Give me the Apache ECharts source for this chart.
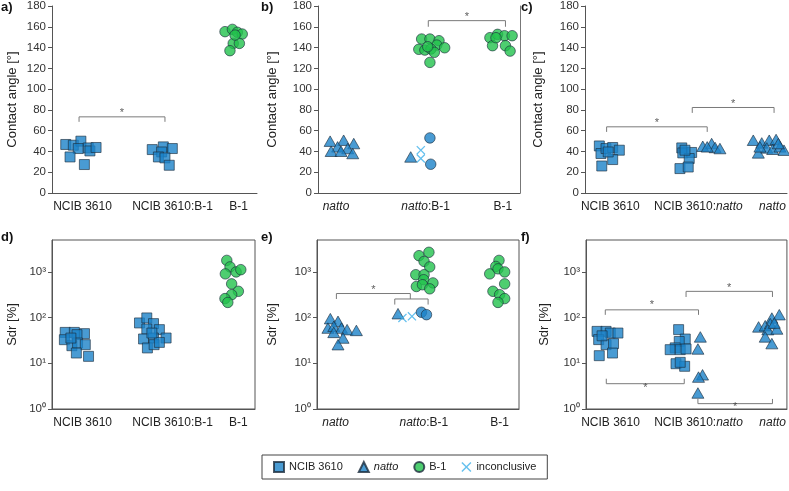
<!DOCTYPE html>
<html>
<head>
<meta charset="utf-8">
<script src="https://cdn.jsdelivr.net/npm/echarts@6/dist/echarts.min.js"></script>
<style>
  html, body { margin: 0; padding: 0; background: #fff; }
  #main { width: 789px; height: 491px; }
</style>
</head>
<body>
<div id="main"></div>
<script>
// category labels and their places on each panel's 0..10 x scale
var catsA = ['NCIB 3610', 'NCIB 3610:B-1', 'B-1'];
var catsB = ['natto', 'natto:B-1', 'B-1'];
var catsC = ['NCIB 3610', 'NCIB 3610:natto', 'natto'];
var posA = [1.49, 5.88, 9.10];
var posB = [0.89, 5.33, 9.15];
var posC = [1.25, 5.61, 9.28];
var posD = [1.51, 5.94, 9.18];
var posE = [0.92, 5.29, 9.04];
var posF = [1.22, 5.60, 9.29];

// [jitter, value] — contact angle (deg)
var a_ncib = [[-0.82,46.7],[-0.45,46],[-0.08,49.9],[-0.21,42.8],[0.28,43.4],[0.36,40.5],[0.66,43.8],[-0.61,34.7],[0.09,27.4]];
var a_mix_ncib = [[-0.99,41.8],[-0.45,44.4],[-0.01,42.8],[-0.53,39.5],[-0.69,34.7],[-0.37,33.8],[-0.16,26.7]];
var a_b1 = [[-0.66,155.3],[-0.30,157.5],[-0.06,154.7],[0.18,153],[-0.26,144],[0.04,144],[-0.42,137],[-0.17,152]];

var b_natto = [[-0.29,49.9],[0.38,50.8],[0.88,47.6],[0.08,44.4],[0.58,42.8],[-0.24,40.2],[0.25,40.2],[0.83,38]];
var b_mix_natto = [[-0.74,34.7]];
var b_mix_inc = [[-0.24,41.2],[-0.24,33.2]];
var b_mix_round = [[0.21,53],[0.25,27.7]];
var b_mix_b1 = [[-0.20,148.2],[0.21,148.2],[0.66,146.6],[0.55,142.4],[0.94,139.8],[-0.34,138.3],[-0.04,137.6],[0.26,138.6],[0.43,135.4],[0.21,125.7],[0.10,140.8]];
var b_b1 = [[-0.64,149.5],[-0.26,152.7],[0.08,151.4],[0.46,151.4],[-0.51,141.8],[0.13,141.8],[0.36,136.6],[-0.34,149.5]];

var c_ncib = [[-0.54,45.3],[-0.46,38],[-0.21,42.8],[0.12,43.8],[0.45,41.2],[0.12,32.2],[-0.42,26],[-0.10,39.5]];
var c_mix_ncib = [[-0.82,43.4],[-0.77,38.6],[-0.33,39],[-0.45,33.2],[-0.91,23.5],[-0.50,25],[-0.66,41.2]];
var c_mix_natto = [[0.22,45],[0.66,47.6],[0.83,43.8],[1.07,42.8],[0.44,44.4]];
var c_natto = [[-0.95,50.8],[-0.53,48.2],[-0.16,50.8],[0.18,51.5],[-0.70,38.6],[-0.28,43.4],[0.01,42.1],[0.37,44.4],[0.57,41.2],[-0.62,44.4],[0.29,47.6]];

// [jitter, value] — Sdr (%)
var d_ncib = [[-0.86,47.5],[-0.41,47.5],[0.09,44.6],[-0.90,32.9],[-0.28,42.4],[-0.53,24.3],[-0.25,27.8],[0.13,25.6],[-0.31,16.8],[0.29,14.2],[-0.58,35.7]];
var d_mix_ncib = [[-1.63,76.5],[-1.27,98.5],[-0.94,73.9],[-1.27,56.4],[-0.65,54.6],[-1.43,34.1],[-0.94,35.8],[-0.32,35.8],[-1.24,21.7],[-0.91,25.6],[-0.65,28.7],[-1.02,46]];
var d_b1 = [[-0.57,1790],[-0.41,1290],[-0.64,907],[-0.11,1000],[0.12,1120],[-0.33,548],[0,377],[-0.33,318],[-0.66,261],[-0.52,215]];

var e_natto = [[-0.26,95],[0.12,83],[-0.38,59],[-0.09,64.6],[0.29,59],[0.57,54.6],[1.03,52.5],[-0.09,47.5],[0.37,35.7],[0.12,25.6]];
var e_mix_natto = [[-1.28,122]];
var e_mix_inc = [[-1.06,98.5],[-0.59,107]];
var e_mix_round = [[-0.12,131],[0.13,116]];
var e_mix_b1 = [[-0.24,2270],[0.25,2690],[0.01,1700],[0.29,1290],[-0.40,870],[0.01,870],[-0.01,676],[0.45,575],[-0.37,480],[-0.07,525],[0.29,427]];
var e_b1 = [[-0.03,1790],[-0.19,1320],[-0.49,907],[-0.08,1170],[0.25,1000],[0.25,548],[-0.33,377],[0,318],[0.25,261],[-0.08,215]];

var f_ncib = [[-0.67,50],[-0.22,50],[-0.01,46],[0.37,46],[-0.59,33],[-0.22,25.6],[0.15,27],[0.10,16.8],[-0.56,14.7],[-0.42,40]];
var f_mix_ncib = [[-0.99,54.6],[-0.66,34],[-0.96,30],[-1.16,21.8],[-1.41,19.9],[-0.91,19.9],[-0.62,20.6],[-1.12,9.8],[-0.69,8.6],[-0.91,10.5]];
var f_mix_natto = [[0.09,37.8],[-0.03,20.6],[0.20,5.6],[0,5.0],[-0.03,2.24]];
var f_natto = [[-0.70,62.6],[-0.37,66.5],[-0.04,98],[0.33,116],[-0.12,74],[-0.24,54.6],[0.21,56.4],[-0.37,37.8],[-0.04,27],[0.08,76]];

// significance brackets: [x1, x2, bar y, tick end y, star y]
var sigA = [[1.32, 5.51, 73.3, 68.5, 77]];
var sigB = [[5.46, 9.28, 165.9, 160, 169]];
var sigC = [[1.07, 6.05, 63.7, 58.8, 67], [5.31, 9.36, 82.3, 77.1, 86]];
var sigD = [];
var sigE = [[0.96, 4.62, 337, 256, 400], [3.85, 5.50, 256, 193, null]];
var sigF = [[0.96, 5.60, 148, 115, 186], [4.98, 9.28, 376, 283, 450], [1.01, 4.89, 3.58, 4.6, 2.95], [5.57, 9.28, 1.31, 1.66, 1.12]];

var yTicksTop = [0, 180, 20];
var logTicks = [1, 10, 100, 1000];

var BLUE = '#1c82c8', GREEN = '#22c24c', XCOL = '#3fb0ea', EDGE = '#1d2d3d';
var XPATH = 'path://M0,1L1,0L5,4L9,0L10,1L6,5L10,9L9,10L5,6L1,10L0,9L4,5Z';
var FONT = 'Liberation Sans, Arial, sans-serif';

var grids = [
  { left: 52, top: 6, width: 205, height: 187 },
  { left: 318, top: 6, width: 202, height: 187 },
  { left: 585, top: 6, width: 202, height: 187 },
  { left: 52, top: 240, width: 203, height: 169 },
  { left: 317, top: 240, width: 202, height: 169 },
  { left: 586, top: 240, width: 201, height: 169 }
];
var panelCats = [catsA, catsB, catsC, catsA, catsB, catsC];
var panelPos = [posA, posB, posC, posD, posE, posF];
var nameGaps = [33, 39, 40, 33, 38, 35];

var superDigits = { 0: '\u2070', 1: '\u00b9', 2: '\u00b2', 3: '\u00b3', 4: '\u2074' };

function place(pos, i, arr) {
  return arr.map(function (d) { return [pos[i] + d[0], d[1]]; });
}

var styles = {
  sq: { symbol: 'rect', symbolSize: 10, itemStyle: { color: BLUE, borderColor: EDGE, borderWidth: 0.8 } },
  tri: { symbol: 'triangle', symbolSize: [12, 10.5], itemStyle: { color: BLUE, borderColor: EDGE, borderWidth: 0.8 } },
  circ: { symbol: 'circle', symbolSize: 10.5, itemStyle: { color: GREEN, borderColor: EDGE, borderWidth: 0.8 } },
  bcirc: { symbol: 'circle', symbolSize: 10.5, itemStyle: { color: BLUE, borderColor: EDGE, borderWidth: 0.8 } },
  x: { symbol: XPATH, symbolSize: 9, itemStyle: { color: XCOL } }
};

function sc(name, gi, data, kind) {
  var s = styles[kind];
  return {
    type: 'scatter', name: name, xAxisIndex: gi, yAxisIndex: gi, data: data,
    symbol: s.symbol, symbolSize: s.symbolSize, itemStyle: s.itemStyle,
    silent: true, z: 3
  };
}

var series = [];
function add(name, gi, pos, i, arr, kind) {
  series.push(sc(name, gi, place(pos, i, arr), kind));
}

add('NCIB 3610', 0, posA, 0, a_ncib, 'sq');
add('NCIB 3610', 0, posA, 1, a_mix_ncib, 'sq');
add('B-1', 0, posA, 2, a_b1, 'circ');

add('natto', 1, posB, 0, b_natto, 'tri');
add('natto', 1, posB, 1, b_mix_natto, 'tri');
add('inconclusive', 1, posB, 1, b_mix_inc, 'x');
add('natto round', 1, posB, 1, b_mix_round, 'bcirc');
add('B-1', 1, posB, 1, b_mix_b1, 'circ');
add('B-1', 1, posB, 2, b_b1, 'circ');

add('NCIB 3610', 2, posC, 0, c_ncib, 'sq');
add('NCIB 3610', 2, posC, 1, c_mix_ncib, 'sq');
add('natto', 2, posC, 1, c_mix_natto, 'tri');
add('natto', 2, posC, 2, c_natto, 'tri');

add('NCIB 3610', 3, posD, 0, d_ncib, 'sq');
add('NCIB 3610', 3, posD, 1, d_mix_ncib, 'sq');
add('B-1', 3, posD, 2, d_b1, 'circ');

add('natto', 4, posE, 0, e_natto, 'tri');
add('natto', 4, posE, 1, e_mix_natto, 'tri');
add('inconclusive', 4, posE, 1, e_mix_inc, 'x');
add('natto round', 4, posE, 1, e_mix_round, 'bcirc');
add('B-1', 4, posE, 1, e_mix_b1, 'circ');
add('B-1', 4, posE, 2, e_b1, 'circ');

add('NCIB 3610', 5, posF, 0, f_ncib, 'sq');
add('NCIB 3610', 5, posF, 1, f_mix_ncib, 'sq');
add('natto', 5, posF, 1, f_mix_natto, 'tri');
add('natto', 5, posF, 2, f_natto, 'tri');

// brackets and stars
[sigA, sigB, sigC, sigD, sigE, sigF].forEach(function (sig, gi) {
  sig.forEach(function (b) {
    series.push({
      type: 'line', xAxisIndex: gi, yAxisIndex: gi, silent: true, symbol: 'none',
      data: [[b[0], b[3]], [b[0], b[2]], [b[1], b[2]], [b[1], b[3]]],
      lineStyle: { color: '#7a7a7a', width: 1 }, z: 2
    });
    if (b[4] != null) {
      series.push({
        type: 'scatter', xAxisIndex: gi, yAxisIndex: gi, silent: true,
        data: [[(b[0] + b[1]) / 2, b[4]]], symbolSize: 1,
        itemStyle: { color: 'rgba(0,0,0,0)' },
        label: { show: true, formatter: '*', position: 'inside', fontSize: 11, color: '#333', fontFamily: FONT }
      });
    }
  });
});

var xAxes = grids.map(function (g, gi) {
  var cats = panelCats[gi], pos = panelPos[gi];
  return {
    type: 'value', gridIndex: gi, min: 0, max: 10,
    axisLine: { show: true, lineStyle: { color: '#555', width: 1 } },
    axisTick: { show: false }, splitLine: { show: false },
    axisLabel: {
      customValues: pos, margin: 8, fontSize: 12, color: '#222', fontFamily: FONT,
      formatter: function (v) {
        var best = 0;
        pos.forEach(function (p, i) { if (Math.abs(p - v) < Math.abs(pos[best] - v)) best = i; });
        return cats[best].replace(/natto/g, '{i|natto}');
      },
      rich: { i: { fontStyle: 'italic', fontSize: 12, color: '#222', fontFamily: FONT } }
    }
  };
});

var yAxes = grids.map(function (g, gi) {
  var top = gi < 3;
  var ax = {
    gridIndex: gi, nameLocation: 'middle', nameGap: nameGaps[gi],
    name: top ? 'Contact angle [\u00b0]' : 'Sdr [%]',
    nameTextStyle: { fontSize: 13, color: '#222', fontFamily: FONT },
    axisLine: { show: true, lineStyle: { color: '#555', width: 1 } },
    axisTick: { show: true, inside: false, length: 4, lineStyle: { color: '#555' } },
    splitLine: { show: false },
    axisLabel: { fontSize: 11.5, color: '#333', margin: 6, fontFamily: FONT }
  };
  if (top) {
    ax.type = 'value'; ax.min = yTicksTop[0]; ax.max = yTicksTop[1]; ax.interval = yTicksTop[2];
  } else {
    ax.type = 'log'; ax.logBase = 10; ax.min = 1; ax.max = 5000;
    ax.axisTick.customValues = logTicks;
    ax.axisLabel.customValues = logTicks;
    ax.axisLabel.formatter = function (v) {
      return '10' + superDigits[Math.round(Math.log10(v))];
    };
  }
  return ax;
});
// panel b also has a thin frame line on its right side
yAxes.push({
  type: 'value', gridIndex: 1, position: 'right', min: 0, max: 180,
  axisLine: { show: true, lineStyle: { color: '#777', width: 1 } },
  axisTick: { show: false }, axisLabel: { show: false }, splitLine: { show: false }
});

var gridOpts = grids.map(function (g, gi) {
  var o = { left: g.left, top: g.top, width: g.width, height: g.height, containLabel: false };
  if (gi >= 3) { o.show = true; o.borderColor = '#555'; o.borderWidth = 1; o.backgroundColor = 'transparent'; }
  return o;
});

var letters = ['a)', 'b)', 'c)', 'd)', 'e)', 'f)'];
var letterPos = [[1, 1], [261, 1], [521, 1], [1, 231], [261, 231], [521, 231]];
var titles = letters.map(function (t, i) {
  return { text: t, left: letterPos[i][0], top: letterPos[i][1], padding: 0,
    textStyle: { fontSize: 13, fontWeight: 'bold', color: '#111', fontFamily: FONT } };
});

var myChart = echarts.init(document.getElementById('main'), null, { renderer: 'canvas' });
myChart.setOption({
  backgroundColor: '#fff',
  animation: false,
  title: titles,
  grid: gridOpts,
  xAxis: xAxes,
  yAxis: yAxes,
  legend: {
    left: 262, top: 455, padding: [6, 11, 6, 11], itemGap: 15,
    itemWidth: 10, itemHeight: 10, selectedMode: false,
    borderColor: '#444', borderWidth: 1,
    data: [
      { name: 'NCIB 3610', icon: 'rect' },
      { name: 'natto', icon: 'triangle' },
      { name: 'B-1', icon: 'circle' },
      { name: 'inconclusive', icon: XPATH }
    ],
    formatter: function (n) { return n === 'natto' ? '{i|natto}' : n; },
    textStyle: { fontSize: 11, color: '#222', fontFamily: FONT,
      rich: { i: { fontStyle: 'italic', fontSize: 11, color: '#222', fontFamily: FONT } } }
  },
  series: series
});
</script>
</body>
</html>
